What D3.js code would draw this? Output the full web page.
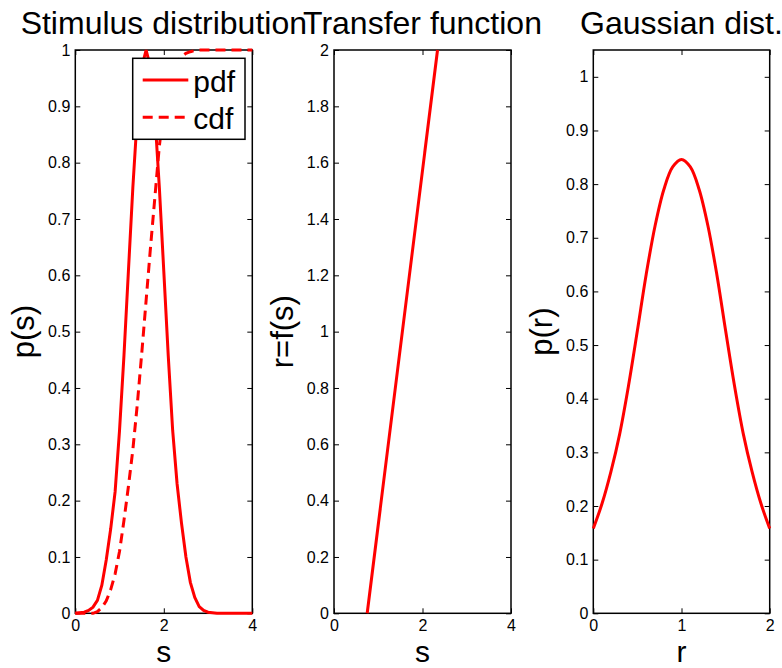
<!DOCTYPE html>
<html>
<head>
<meta charset="utf-8">
<script src="https://cdn.jsdelivr.net/npm/d3@7"></script>
<style>
  body { margin: 0; background: #fff; }
  svg text { font-family: "Liberation Sans", Arial, Helvetica, sans-serif; fill: #000; }
</style>
</head>
<body>
<div id="chart"></div>
<script>

// stimulus grid and its pdf / cdf
var sGrid = [0, 0.1, 0.2, 0.3, 0.4, 0.5, 0.6, 0.7, 0.8, 0.9,
             1.0, 1.1, 1.2, 1.3, 1.4, 1.5, 1.6, 1.7, 1.8, 1.9,
             2.0, 2.1, 2.2, 2.3, 2.4, 2.5, 2.6, 2.7, 2.8, 2.9,
             3.0, 3.1, 3.2, 3.3, 3.4, 3.5, 3.6, 3.7, 3.8, 3.9, 4.0];
var pdfVals = [0, 0.001, 0.002, 0.005, 0.011, 0.023, 0.05, 0.095, 0.15, 0.216,
               0.325, 0.458, 0.607, 0.755, 0.882, 0.969, 1.0, 0.969, 0.882, 0.755,
               0.607, 0.458, 0.325, 0.23, 0.16, 0.1, 0.055, 0.028, 0.012, 0.005,
               0.002, 0.001, 0, 0, 0, 0, 0, 0, 0, 0, 0];
var cdfVals = [0, 0, 0, 0, 0, 0.003, 0.01, 0.022, 0.042, 0.07,
               0.11, 0.165, 0.225, 0.29, 0.37, 0.46, 0.555, 0.65, 0.74, 0.83,
               0.895, 0.935, 0.962, 0.978, 0.988, 0.994, 0.997, 0.999, 1, 1,
               1, 1, 1, 1, 1, 1, 1, 1, 1, 1, 1];

// transfer function r = f(s), straight line
var sTransfer = [0.75, 2.34];
var rTransfer = [0, 2];

// gaussian response distribution
var rGrid = [0, 0.1, 0.2, 0.3, 0.4, 0.5, 0.6, 0.7, 0.8, 0.9, 1.0,
             1.1, 1.2, 1.3, 1.4, 1.5, 1.6, 1.7, 1.8, 1.9, 2.0];
var prVals = [0.158, 0.205, 0.264, 0.335, 0.425, 0.527, 0.632, 0.722, 0.79, 0.832, 0.846,
              0.832, 0.79, 0.722, 0.632, 0.527, 0.425, 0.335, 0.264, 0.205, 0.158];

// tick labels
var xTicks1 = [0, 2, 4];
var yTicks1 = [0, 0.1, 0.2, 0.3, 0.4, 0.5, 0.6, 0.7, 0.8, 0.9, 1];
var yTicks2 = [0, 0.2, 0.4, 0.6, 0.8, 1, 1.2, 1.4, 1.6, 1.8, 2];
var xTicks3 = [0, 1, 2];
var yTicks3 = [0, 0.1, 0.2, 0.3, 0.4, 0.5, 0.6, 0.7, 0.8, 0.9, 1];

var svgWidth = 782;
var svgHeight = 668;
var plotTop = 50, plotBottom = 613.3;

var svg = d3.select("#chart")
  .append("svg")
  .attr("width", svgWidth)
  .attr("height", svgHeight);

// draws one boxed matlab-style axes and returns its scales
function makeAxes(left, right, xDomain, yDomain, xTicks, yTicks, title, xLabel, yLabel) {
  var x = d3.scaleLinear().domain(xDomain).range([left, right]);
  var y = d3.scaleLinear().domain(yDomain).range([plotBottom, plotTop]);
  var g = svg.append("g");

  var tickLen = 5;
  // ticks inward on all four sides
  g.append("g")
    .attr("transform", `translate(0, ${plotBottom})`)
    .call(d3.axisBottom(x).tickValues(xTicks).tickSizeInner(-tickLen).tickSizeOuter(0).tickPadding(6).tickFormat(d3.format("")));
  g.append("g")
    .attr("transform", `translate(0, ${plotTop})`)
    .call(d3.axisTop(x).tickValues(xTicks).tickSizeInner(-tickLen).tickSizeOuter(0).tickFormat(""));
  g.append("g")
    .attr("transform", `translate(${left}, 0)`)
    .call(d3.axisLeft(y).tickValues(yTicks).tickSizeInner(-tickLen).tickSizeOuter(0).tickPadding(5).tickFormat(d3.format("")));
  g.append("g")
    .attr("transform", `translate(${right}, 0)`)
    .call(d3.axisRight(y).tickValues(yTicks).tickSizeInner(-tickLen).tickSizeOuter(0).tickFormat(""));

  g.selectAll(".domain").remove();
  g.selectAll(".tick line").attr("stroke", "#000").attr("stroke-width", 1);
  g.selectAll(".tick text").style("font-size", "16px");

  // box
  g.append("rect")
    .attr("x", left).attr("y", plotTop)
    .attr("width", right - left).attr("height", plotBottom - plotTop)
    .attr("fill", "none")
    .attr("stroke", "#000")
    .attr("stroke-width", 1.5);

  svg.append("text")
    .attr("x", (left + right) / 2)
    .attr("y", 34)
    .attr("text-anchor", "middle")
    .style("font-size", "32px")
    .text(title);

  svg.append("text")
    .attr("x", (left + right) / 2)
    .attr("y", 661.5)
    .attr("text-anchor", "middle")
    .style("font-size", "30px")
    .text(xLabel);

  svg.append("text")
    .attr("transform", `translate(${left - 41}, ${(plotTop + plotBottom) / 2}) rotate(-90)`)
    .attr("text-anchor", "middle")
    .style("font-size", "31px")
    .text(yLabel);

  return { x: x, y: y };
}

function drawLine(ax, xs, ys, dashed, curve) {
  var pts = xs.map(function(d, i) { return [d, ys[i]]; });
  var line = d3.line()
    .x(d => ax.x(d[0]))
    .y(d => ax.y(d[1]))
    .curve(curve || d3.curveLinear);
  svg.append("path")
    .datum(pts)
    .attr("d", line)
    .attr("fill", "none")
    .attr("stroke", "#ff0000")
    .attr("stroke-width", 3)
    .attr("stroke-dasharray", dashed ? "10,6" : null);
}

// panel 1 : stimulus distribution
var ax1 = makeAxes(75.3, 252.3, [0, 4], [0, 1], xTicks1, yTicks1, "Stimulus distribution", "s", "p(s)");
drawLine(ax1, sGrid, pdfVals, false);
drawLine(ax1, sGrid, cdfVals, true);

// legend
var leg = svg.append("g");
leg.append("rect")
  .attr("x", 132.7).attr("y", 58.3)
  .attr("width", 112.3).attr("height", 81)
  .attr("fill", "#fff")
  .attr("stroke", "#000")
  .attr("stroke-width", 1.5);
[["pdf", false, 80, 91.7], ["cdf", true, 117.3, 129.3]].forEach(function(e) {
  leg.append("line")
    .attr("x1", 142.7).attr("x2", 188.3)
    .attr("y1", e[2]).attr("y2", e[2])
    .attr("stroke", "#ff0000")
    .attr("stroke-width", 3)
    .attr("stroke-dasharray", e[1] ? "10,6" : null);
  leg.append("text")
    .attr("x", 193.3)
    .attr("y", e[3])
    .style("font-size", "30px")
    .text(e[0]);
});

// panel 2 : transfer function
var ax2 = makeAxes(334, 511, [0, 4], [0, 2], xTicks1, yTicks2, "Transfer function", "s", "r=f(s)");
drawLine(ax2, sTransfer, rTransfer, false);

// panel 3 : gaussian
var ax3 = makeAxes(593.3, 769.7, [0, 2], [0, 1.05], xTicks3, yTicks3, "Gaussian dist.", "r", "p(r)");
drawLine(ax3, rGrid, prVals, false, d3.curveCatmullRom);

</script>
</body>
</html>
